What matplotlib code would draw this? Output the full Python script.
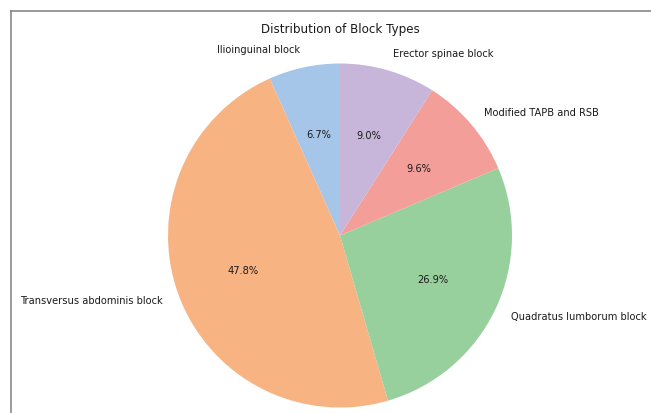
import matplotlib

matplotlib.use("Agg")
import matplotlib.pyplot as plt
from matplotlib.lines import Line2D

W, H = 651, 413

labels = [
    "Ilioinguinal block",
    "Transversus abdominis block",
    "Quadratus lumborum block",
    "Modified TAPB and RSB",
    "Erector spinae block",
]
shares = [6.7, 47.8, 26.9, 9.6, 9.0]
colors = ["#a6c6e9", "#f8b383", "#98d09d", "#f49e9a", "#c7b6da"]

fig = plt.figure(figsize=(W / 100, H / 100), dpi=100)
fig.patch.set_facecolor("white")

# pie centred at (340, 235.5) px from top-left, radius ~172 px
r = 172
cx, cy = 340, H - 235.5
half = 1.25 * r
ax = fig.add_axes([(cx - half) / W, (cy - half) / H, 2 * half / W, 2 * half / H])
ax.pie(
    shares,
    labels=labels,
    colors=colors,
    autopct="%1.1f%%",
    startangle=90,
    textprops={"fontsize": 7.1, "color": "#1a1a1a"},
)
ax.set_xlim(-1.25, 1.25)
ax.set_ylim(-1.25, 1.25)

fig.text(cx / W, 1 - 30 / H, "Distribution of Block Types",
         ha="center", va="center", fontsize=8.6, color="#1a1a1a")

# grey frame edges visible at top and left of the crop
fig.add_artist(Line2D([11 / W, 1], [1 - 11 / H, 1 - 11 / H],
                      transform=fig.transFigure, color="#7f7f7f", linewidth=1.1))
fig.add_artist(Line2D([11 / W, 11 / W], [0, 1 - 11 / H],
                      transform=fig.transFigure, color="#7f7f7f", linewidth=1.1))

fig.savefig("out.png", dpi=100)
